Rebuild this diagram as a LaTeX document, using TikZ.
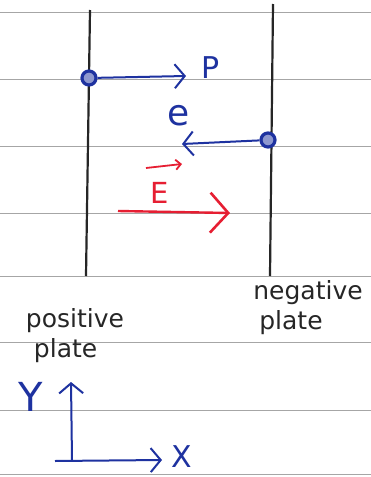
\documentclass[tikz,border=0pt]{standalone}
\usepackage{fontspec}
\setmainfont{DejaVu Sans}
\usetikzlibrary{arrows.meta}
\definecolor{pen}{RGB}{30,50,160}
\definecolor{redpen}{RGB}{230,30,50}
\begin{document}
\begin{tikzpicture}[x=1pt,y=-1pt,
  rule/.style={draw=gray!70,line width=0.8pt},
  plate/.style={draw=black!85,line width=2.2pt},
  bluearr/.style={draw=pen,line width=2pt,-{Straight Barb[length=10pt,width=24pt,line width=2pt]}},
  redarr/.style={draw=redpen,line width=2.4pt,-{Straight Barb[length=18pt,width=40pt,line width=2.6pt]}},
  charge/.style={circle,draw=pen,line width=3.2pt,fill=pen!50!white,minimum size=14pt,inner sep=0pt},
  lbl/.style={font=\fontsize{25}{30}\selectfont,text=black!85,align=left,inner sep=0pt},
  bluelbl/.style={text=pen,inner sep=0pt},
]
\useasboundingbox (0,0) rectangle (371,477);
\fill[white] (0,0) rectangle (371,477);
% ruled lines
\foreach \yy in {12,79,146,213,276,342,410,474}
  \draw[rule] (0,\yy) -- (371,\yy);
% plates
\coordinate (lt) at (90,10);
\coordinate (lb) at (86,276);
\coordinate (rt) at (273,4);
\coordinate (rb) at (270,276);
\draw[plate] (lt) -- (lb);
\draw[plate] (rt) -- (rb);
% proton
\node[charge] (p) at (89,78) {};
\coordinate (pend) at (186,76);
\draw[bluearr] (p) -- (pend);
\node[bluelbl,font=\fontsize{30}{30}\selectfont] (plbl) at (211,68) {P};
% electron
\node[charge] (e) at (268,140) {};
\coordinate (eend) at (182,144);
\draw[bluearr] (e) -- (eend);
\node[bluelbl,font=\fontsize{36}{36}\selectfont] (elbl) at (179,116) {e};
% field
\coordinate (es) at (118,211);
\coordinate (ee) at (230,213);
\draw[redarr] (es) -- (ee);
\node[font=\fontsize{29}{29}\selectfont,text=redpen,inner sep=0pt] (Elbl) at (160,193) {E};
\coordinate (vs) at (146,168);
\coordinate (ve) at (182,164);
\draw[draw=redpen,line width=1.8pt,-{Straight Barb[length=5pt,width=10pt,line width=1.8pt]}] (vs) -- (ve);
% plate labels
\node[lbl] (pos) at (75,336) {positive\\\hspace*{8pt}plate};
\node[lbl] (neg) at (308,308) {negative\\\hspace*{6pt}plate};
% axes
\coordinate (o) at (72,460);
\coordinate (ytop) at (71,382);
\coordinate (xs) at (55,461);
\coordinate (xend) at (162,460);
\draw[bluearr] (o) -- (ytop);
\draw[bluearr] (xs) -- (xend);
\node[bluelbl,font=\fontsize{40}{40}\selectfont] (ylbl) at (31,397) {Y};
\node[bluelbl,font=\fontsize{30}{30}\selectfont] (xlbl) at (182,457) {X};
\end{tikzpicture}
\end{document}
